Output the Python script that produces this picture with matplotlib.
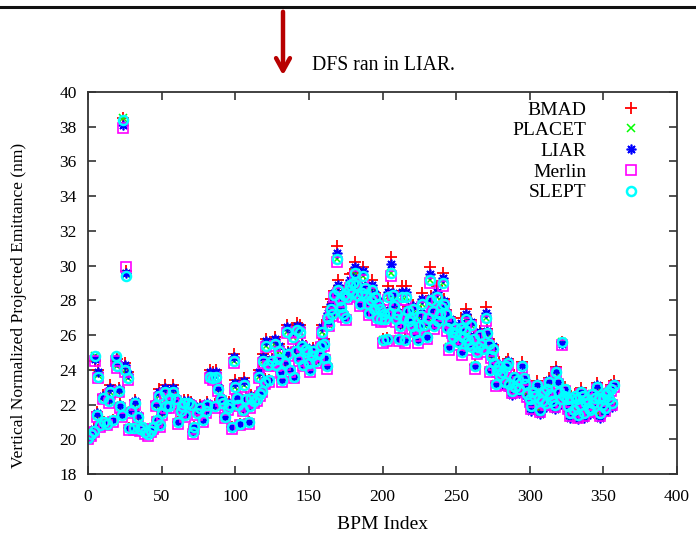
import matplotlib
matplotlib.use("Agg")
import matplotlib.pyplot as plt
from matplotlib.lines import Line2D

plt.rcParams['font.family'] = ['Liberation Serif', 'DejaVu Serif']

# BPM indices and emittance (nm)
bpm = [0, 2, 4, 5, 6, 7, 8, 10, 11, 13, 14, 15, 17, 19, 20, 21, 22, 23, 24, 25, 26, 27, 28, 29,
       31, 32, 34, 35, 37, 39, 41, 43, 44, 46, 47, 48, 49, 50, 52, 53, 55, 56, 58, 60, 61, 63, 64, 65, 66, 68, 70, 71, 72, 74, 76, 78, 80, 81,
       83, 85, 86, 87, 88, 90, 92, 93, 95, 96, 98, 99, 100, 101, 102, 103, 105, 106, 107, 109, 110, 111, 113, 115, 116, 117, 118, 119, 120,
       121, 122, 123, 125, 127, 128, 129, 130, 131, 132, 134, 135, 136, 137, 139, 140, 141, 142, 143, 144, 145, 146, 148, 149, 150, 151, 152, 153, 155, 157, 158, 159,
       160, 161, 162, 163, 164, 165, 166, 167, 169, 170, 171, 172, 173, 174, 175, 176, 177, 178, 179, 180, 181, 182, 183, 185, 186, 187, 188, 189, 190, 191,
       192, 193, 194, 195, 196, 197, 198, 199, 200, 201, 202, 203, 204, 205, 206, 207, 208, 209, 210, 211, 212, 213, 214, 215, 216, 217, 218, 219, 220, 221, 222,
       224, 225, 226, 227, 228, 230, 231, 232, 233, 234, 235, 237, 238, 239, 240, 241, 242, 243, 244, 245, 246, 247, 248, 249, 250, 251,
       253, 254, 255, 256, 257, 258, 259, 260, 261, 262, 263, 264, 265, 266, 267, 268, 270, 271, 272, 273, 274, 275, 276, 277, 278, 279,
       280, 281, 283, 284, 285, 286, 288, 289, 290, 292, 293, 295, 296, 297, 298, 300, 301, 302, 303, 305, 306, 307, 308, 310, 311, 312, 313, 314, 315, 317,
       318, 319, 320, 321, 322, 323, 324, 325, 326, 327, 328, 330, 331, 332, 333, 334, 335, 336, 337, 338, 339, 340, 341, 342, 343, 344,
       346, 347, 348, 349, 350, 351, 352, 353, 354, 355, 356, 357]

bmad = [20.1, 20.3, 20.65, 24.5, 21.55, 24.0, 20.8, 22.55, 21.0, 20.9, 22.35, 23.1, 21.1, 24.5, 24.6, 22.95, 22.05, 21.4, 38.5, 24.4, 29.7, 23.9, 20.65, 21.75,
        20.65, 22.25, 21.45, 20.6, 20.7, 20.4, 20.3, 20.5, 20.7, 22.15, 21.1, 22.9, 20.8, 21.65, 23.1, 22.05, 22.05, 22.55, 23.1, 22.45, 21.0, 21.75, 22.05, 22.25, 21.4, 22.25, 22.15, 20.4, 20.7, 21.65, 21.95, 21.1, 21.75, 22.15,
        24.0, 23.9, 22.05, 24.0, 23.05, 22.45, 22.25, 21.3, 21.95, 22.15, 20.7, 24.9, 23.4, 22.55, 22.15, 20.9, 21.85, 23.5, 22.45, 21.0, 22.05, 22.55, 22.35, 22.45, 24.0, 22.75, 22.95, 24.9, 23.45,
        25.8, 24.45, 23.4, 24.65, 25.9, 24.45, 24.75, 25.5, 23.9, 23.4, 24.55, 26.6, 25.05, 24.0, 26.3, 23.6, 25.25, 26.7, 24.75, 26.6, 25.55, 24.3, 25.35, 25.15, 24.4, 24.0, 24.95, 25.25, 24.65, 25.05, 25.55, 26.6,
        25.75, 24.75, 24.25, 27.6, 26.85, 28.1, 27.45, 28.55, 31.15, 29.2, 28.25, 27.85, 27.25, 28.55, 27.05, 28.45, 28.85, 29.5, 28.65, 29.6, 30.2, 29.15, 28.55, 27.85, 28.65, 29.95, 28.95, 28.55, 27.85, 27.35,
        28.25, 29.2, 27.55, 28.45, 27.05, 28.05, 27.75, 26.95, 25.75, 27.45, 27.15, 25.85, 28.8, 27.55, 30.5, 28.55, 27.95, 26.95, 27.45, 25.85, 26.75, 28.8, 27.25, 25.75, 28.8, 27.65, 27.05, 27.25, 26.55, 27.75, 26.15,
        25.75, 26.75, 27.35, 28.4, 26.85, 25.95, 27.25, 29.9, 28.25, 27.65, 26.55, 28.8, 27.05, 27.45, 27.85, 29.55, 28.05, 27.45, 26.45, 25.35, 27.05, 26.45, 25.95, 26.65, 26.35, 25.65,
        27.0, 25.05, 26.15, 26.55, 27.5, 25.75, 25.55, 26.85, 25.35, 26.05, 24.25, 25.25, 25.55, 26.25, 25.75, 25.25, 27.6, 26.35, 25.75, 24.05, 25.05, 25.45, 24.45, 23.25, 24.25, 24.45,
        23.8, 24.0, 23.3, 24.45, 24.65, 23.2, 22.8, 23.7, 23.1, 23.5, 22.9, 24.45, 23.6, 23.3, 22.6, 22.3, 21.9, 22.8, 22.6, 23.35, 22.5, 21.7, 22.3, 22.8, 22.1, 23.0, 23.55, 22.7, 22.2, 22.0,
        24.15, 23.4, 22.8, 22.3, 25.6, 22.6, 23.0, 22.3, 21.9, 21.5, 22.5, 21.7, 22.6, 22.4, 21.4, 22.1, 22.95, 22.6, 21.5, 22.2, 22.4, 21.8, 21.7, 22.7, 22.2, 22.5,
        23.25, 22.5, 21.5, 22.1, 22.4, 21.8, 22.7, 22.8, 22.4, 23.15, 22.1, 23.35]

placet = [20.1, 20.3, 20.5, 24.8, 21.4, 23.7, 20.8, 22.4, 21.0, 20.9, 22.2, 22.7, 21.1, 24.7, 24.2, 22.8, 21.9, 21.4, 38.5, 24.0, 29.5, 23.5, 20.65, 21.6,
          20.65, 22.1, 21.3, 20.6, 20.7, 20.4, 20.3, 20.5, 20.7, 22.0, 21.1, 22.5, 20.8, 21.5, 22.7, 21.9, 21.9, 22.4, 22.7, 22.3, 21.0, 21.6, 21.9, 22.1, 21.4, 22.1, 22.0, 20.4, 20.7, 21.5, 21.8, 21.1, 21.6, 22.0,
          23.6, 23.5, 21.9, 23.6, 22.9, 22.3, 22.1, 21.3, 21.8, 22.0, 20.7, 24.5, 23.0, 22.4, 22.0, 20.9, 21.7, 23.1, 22.3, 21.0, 21.9, 22.4, 22.2, 22.3, 23.6, 22.6, 22.8, 24.5, 23.3,
          25.4, 24.3, 23.4, 24.5, 25.5, 24.3, 24.6, 25.1, 23.9, 23.4, 24.4, 26.2, 24.9, 24.0, 25.9, 23.6, 25.1, 26.3, 24.6, 26.2, 25.4, 24.3, 25.2, 25.0, 24.4, 24.0, 24.8, 25.1, 24.5, 24.9, 25.4, 26.2,
          25.5, 24.7, 24.2, 27.0, 26.6, 27.5, 27.2, 28.3, 30.4, 28.6, 28.0, 27.6, 27.2, 28.3, 27.0, 28.2, 28.6, 28.9, 28.4, 29.0, 29.6, 28.9, 28.3, 27.8, 28.4, 29.4, 28.7, 28.3, 27.8, 27.3,
          28.0, 28.6, 27.5, 28.2, 27.0, 27.8, 27.5, 26.9, 25.7, 27.2, 26.9, 25.8, 28.2, 27.3, 29.6, 28.3, 27.7, 26.9, 27.2, 25.8, 26.5, 28.2, 27.0, 25.7, 28.2, 27.4, 26.8, 27.0, 26.5, 27.5, 26.1,
          25.7, 26.5, 27.1, 27.8, 26.6, 25.9, 27.0, 29.2, 28.0, 27.4, 26.5, 28.2, 26.8, 27.2, 27.6, 29.0, 27.8, 27.2, 26.4, 25.3, 26.8, 26.2, 25.9, 26.4, 26.1, 25.6,
          26.4, 25.0, 25.9, 26.3, 26.9, 25.7, 25.5, 26.6, 25.3, 25.8, 24.2, 25.0, 25.3, 26.0, 25.5, 25.2, 27.0, 26.1, 25.5, 24.0, 24.8, 25.2, 24.4, 23.2, 24.0, 24.2,
          23.7, 23.9, 23.3, 24.2, 24.4, 23.2, 22.8, 23.6, 23.0, 23.4, 22.9, 24.2, 23.5, 23.2, 22.6, 22.3, 21.9, 22.7, 22.5, 23.1, 22.4, 21.7, 22.2, 22.7, 22.1, 22.9, 23.3, 22.6, 22.2, 22.0,
          23.9, 23.3, 22.7, 22.3, 25.6, 22.5, 22.9, 22.3, 21.9, 21.5, 22.4, 21.7, 22.5, 22.3, 21.4, 22.0, 22.7, 22.5, 21.5, 22.1, 22.3, 21.8, 21.7, 22.6, 22.1, 22.4,
          23.0, 22.4, 21.5, 22.0, 22.3, 21.8, 22.6, 22.7, 22.3, 22.9, 22.1, 23.1]

liar = [20.1, 20.3, 20.6, 24.6, 21.5, 23.85, 20.8, 22.5, 21.0, 20.9, 22.3, 22.95, 21.1, 24.6, 24.45, 22.9, 22.0, 21.4, 38.1, 24.25, 29.6, 23.75, 20.65, 21.7,
        20.65, 22.2, 21.4, 20.6, 20.7, 20.4, 20.3, 20.5, 20.7, 22.1, 21.1, 22.75, 20.8, 21.6, 22.95, 22.0, 22.0, 22.5, 22.95, 22.4, 21.0, 21.7, 22.0, 22.2, 21.4, 22.2, 22.1, 20.4, 20.7, 21.6, 21.9, 21.1, 21.7, 22.1,
        23.85, 23.75, 22.0, 23.85, 23.0, 22.4, 22.2, 21.3, 21.9, 22.1, 20.7, 24.75, 23.25, 22.5, 22.1, 20.9, 21.8, 23.35, 22.4, 21.0, 22.0, 22.5, 22.3, 22.4, 23.85, 22.7, 22.9, 24.75, 23.4,
        25.65, 24.4, 23.4, 24.6, 25.75, 24.4, 24.7, 25.35, 23.9, 23.4, 24.5, 26.45, 25.0, 24.0, 26.15, 23.6, 25.2, 26.55, 24.7, 26.45, 25.5, 24.3, 25.3, 25.1, 24.4, 24.0, 24.9, 25.2, 24.6, 25.0, 25.5, 26.45,
        25.65, 24.7, 24.2, 27.3, 26.75, 27.8, 27.35, 28.45, 30.7, 28.9, 28.15, 27.75, 27.2, 28.45, 27.0, 28.35, 28.75, 29.2, 28.55, 29.3, 29.9, 29.05, 28.45, 27.8, 28.55, 29.7, 28.85, 28.45, 27.8, 27.3,
        28.15, 28.9, 27.5, 28.35, 27.0, 27.95, 27.65, 26.9, 25.7, 27.35, 27.05, 25.8, 28.5, 27.45, 30.1, 28.45, 27.85, 26.9, 27.35, 25.8, 26.65, 28.5, 27.15, 25.7, 28.5, 27.55, 26.95, 27.15, 26.5, 27.65, 26.1,
        25.7, 26.65, 27.25, 28.1, 26.75, 25.9, 27.15, 29.5, 28.15, 27.55, 26.5, 28.5, 26.95, 27.35, 27.75, 29.3, 27.95, 27.35, 26.4, 25.3, 26.95, 26.35, 25.9, 26.55, 26.25, 25.6,
        26.7, 25.0, 26.05, 26.45, 27.2, 25.7, 25.5, 26.75, 25.3, 25.95, 24.2, 25.15, 25.45, 26.15, 25.65, 25.2, 27.3, 26.25, 25.65, 24.0, 24.95, 25.35, 24.4, 23.2, 24.15, 24.35,
        23.7, 23.9, 23.05, 24.3, 24.5, 22.95, 22.55, 23.6, 23.0, 23.4, 22.65, 24.3, 23.5, 23.2, 22.35, 22.05, 21.65, 22.7, 22.5, 23.2, 22.4, 21.45, 22.2, 22.7, 21.85, 22.9, 23.4, 22.6, 21.95, 21.75,
        24.0, 23.3, 22.7, 22.05, 25.5, 22.5, 22.9, 22.05, 21.65, 21.25, 22.4, 21.45, 22.5, 22.3, 21.15, 22.0, 22.8, 22.5, 21.25, 22.1, 22.3, 21.55, 21.45, 22.6, 22.1, 22.4,
        23.1, 22.4, 21.25, 22.0, 22.3, 21.55, 22.6, 22.7, 22.3, 23.0, 21.85, 23.2]

merlin = [20.0, 20.2, 20.4, 24.5, 21.3, 23.5, 20.7, 22.3, 20.9, 20.8, 22.1, 22.6, 21.0, 24.5, 24.1, 22.7, 21.8, 21.3, 37.9, 23.9, 29.95, 23.4, 20.55, 21.5,
          20.55, 22.0, 21.2, 20.5, 20.6, 20.3, 20.2, 20.4, 20.6, 21.9, 21.0, 22.4, 20.7, 21.4, 22.6, 21.8, 21.8, 22.3, 22.6, 22.2, 20.9, 21.5, 21.8, 22.0, 21.3, 22.0, 21.9, 20.3, 20.6, 21.4, 21.7, 21.0, 21.5, 21.9,
          23.5, 23.4, 21.8, 23.5, 22.8, 22.2, 22.0, 21.2, 21.7, 21.9, 20.6, 24.4, 22.9, 22.3, 21.9, 20.8, 21.6, 23.0, 22.2, 20.9, 21.8, 22.3, 22.1, 22.2, 23.5, 22.5, 22.7, 24.4, 23.2,
          25.3, 24.2, 23.3, 24.4, 25.4, 24.2, 24.5, 25.0, 23.8, 23.3, 24.3, 26.1, 24.8, 23.9, 25.8, 23.5, 25.0, 26.2, 24.5, 26.1, 25.3, 24.2, 25.1, 24.9, 24.3, 23.9, 24.7, 25.0, 24.4, 24.8, 25.3, 26.1,
          25.4, 24.55, 24.05, 26.8, 26.5, 27.3, 27.1, 28.2, 30.2, 28.4, 27.9, 27.5, 27.05, 28.2, 26.85, 28.1, 28.5, 28.7, 28.3, 28.8, 29.4, 28.8, 28.2, 27.65, 28.3, 29.2, 28.6, 28.2, 27.65, 27.15,
          27.9, 28.4, 27.35, 28.1, 26.85, 27.7, 27.4, 26.75, 25.55, 27.1, 26.8, 25.65, 28.0, 27.2, 29.4, 28.2, 27.6, 26.75, 27.1, 25.65, 26.4, 28.0, 26.9, 25.55, 28.0, 27.3, 26.7, 26.9, 26.35, 27.4, 25.95,
          25.55, 26.4, 27.0, 27.6, 26.5, 25.75, 26.9, 29.0, 27.9, 27.3, 26.35, 28.0, 26.7, 27.1, 27.5, 28.8, 27.7, 27.1, 26.25, 25.15, 26.7, 26.1, 25.75, 26.3, 26.0, 25.45,
          26.2, 24.85, 25.8, 26.2, 26.7, 25.55, 25.35, 26.5, 25.15, 25.7, 24.05, 24.9, 25.2, 25.9, 25.4, 25.05, 26.8, 26.0, 25.4, 23.85, 24.7, 25.1, 24.25, 23.05, 23.9, 24.1,
          23.6, 23.8, 23.15, 24.1, 24.3, 23.05, 22.65, 23.5, 22.9, 23.3, 22.75, 24.1, 23.4, 23.1, 22.45, 22.15, 21.75, 22.6, 22.4, 23.0, 22.3, 21.55, 22.1, 22.6, 21.95, 22.8, 23.2, 22.5, 22.05, 21.85,
          23.8, 23.2, 22.6, 22.15, 25.45, 22.4, 22.8, 22.15, 21.75, 21.35, 22.3, 21.55, 22.4, 22.2, 21.25, 21.9, 22.6, 22.4, 21.35, 22.0, 22.2, 21.65, 21.55, 22.5, 22.0, 22.3,
          22.9, 22.3, 21.35, 21.9, 22.2, 21.65, 22.5, 22.6, 22.2, 22.8, 21.95, 23.0]

slept = [20.1, 20.3, 20.5, 24.8, 21.4, 23.6, 20.8, 22.4, 21.0, 20.9, 22.2, 22.7, 21.1, 24.8, 24.2, 22.8, 21.9, 21.4, 38.4, 24.0, 29.4, 23.5, 20.65, 21.6,
         20.65, 22.1, 21.3, 20.6, 20.7, 20.4, 20.3, 20.5, 20.7, 22.0, 21.1, 22.5, 20.8, 21.5, 22.7, 21.9, 21.9, 22.4, 22.7, 22.3, 21.0, 21.6, 21.9, 22.1, 21.4, 22.1, 22.0, 20.4, 20.7, 21.5, 21.8, 21.1, 21.6, 22.0,
         23.6, 23.5, 21.9, 23.6, 22.9, 22.3, 22.1, 21.3, 21.8, 22.0, 20.7, 24.5, 23.0, 22.4, 22.0, 20.9, 21.7, 23.1, 22.3, 21.0, 21.9, 22.4, 22.2, 22.3, 23.6, 22.6, 22.8, 24.5, 23.3,
         25.4, 24.3, 23.4, 24.5, 25.5, 24.3, 24.6, 25.1, 23.9, 23.4, 24.4, 26.2, 24.9, 24.0, 25.9, 23.6, 25.1, 26.3, 24.6, 26.2, 25.4, 24.3, 25.2, 25.0, 24.4, 24.0, 24.8, 25.1, 24.5, 24.9, 25.4, 26.2,
         25.5, 24.7, 24.2, 27.0, 26.6, 27.5, 27.2, 28.3, 30.4, 28.6, 28.0, 27.6, 27.2, 28.3, 27.0, 28.2, 28.6, 28.9, 28.4, 29.0, 29.6, 28.9, 28.3, 27.8, 28.4, 29.4, 28.7, 28.3, 27.8, 27.3,
         28.0, 28.6, 27.5, 28.2, 27.0, 27.8, 27.5, 26.9, 25.7, 27.2, 26.9, 25.8, 28.2, 27.3, 29.6, 28.3, 27.7, 26.9, 27.2, 25.8, 26.5, 28.2, 27.0, 25.7, 28.2, 27.4, 26.8, 27.0, 26.5, 27.5, 26.1,
         25.7, 26.5, 27.1, 27.8, 26.6, 25.9, 27.0, 29.2, 28.0, 27.4, 26.5, 28.2, 26.8, 27.2, 27.6, 29.0, 27.8, 27.2, 26.4, 25.3, 26.8, 26.2, 25.9, 26.4, 26.1, 25.6,
         26.4, 25.0, 25.9, 26.3, 26.9, 25.7, 25.5, 26.6, 25.3, 25.8, 24.2, 25.0, 25.3, 26.0, 25.5, 25.2, 27.0, 26.1, 25.5, 24.0, 24.8, 25.2, 24.4, 23.2, 24.0, 24.2,
         23.7, 23.9, 23.3, 24.2, 24.4, 23.2, 22.8, 23.6, 23.0, 23.4, 22.9, 24.2, 23.5, 23.2, 22.6, 22.3, 21.9, 22.7, 22.5, 23.1, 22.4, 21.7, 22.2, 22.7, 22.1, 22.9, 23.3, 22.6, 22.2, 22.0,
         23.9, 23.3, 22.7, 22.3, 25.6, 22.5, 22.9, 22.3, 21.9, 21.5, 22.4, 21.7, 22.5, 22.3, 21.4, 22.0, 22.7, 22.5, 21.5, 22.1, 22.3, 21.8, 21.7, 22.6, 22.1, 22.4,
         23.0, 22.4, 21.5, 22.0, 22.3, 21.8, 22.6, 22.7, 22.3, 22.9, 22.1, 23.1]

fig = plt.figure(figsize=(6.96, 5.34), dpi=100)
ax = fig.add_axes([88 / 696, 60 / 534, 589 / 696, 382 / 534])

ax.plot(bpm, bmad, ls='none', marker='+', color='#ff0000', ms=8, mew=1.3, label='BMAD')
ax.plot(bpm, placet, ls='none', marker='x', color='#00ff00', ms=5.5, mew=1.1, label='PLACET')
ax.plot(bpm, liar, ls='none', marker=(8, 2, 0), color='#0000ff', ms=7, mew=1.2, label='LIAR')
ax.plot(bpm, merlin, ls='none', marker='s', mfc='none', mec='#ff00ff', ms=6.5, mew=1.2, label='Merlin')
ax.plot(bpm, slept, ls='none', marker='o', mfc='none', mec='#00ffff', ms=6.5, mew=1.8, label='SLEPT')

ax.set_xlim(0, 400)
ax.set_ylim(18, 40)
ax.set_xticks(range(0, 401, 50))
ax.set_yticks(range(18, 41, 2))
ax.tick_params(direction='in', top=True, right=True, length=6, width=1.2,
               labelsize=12.5, colors='#333333', labelcolor='black')
ax.tick_params(axis='x', pad=11)
ax.tick_params(axis='y', pad=8)
for s in ax.spines.values():
    s.set_linewidth(1.3)
    s.set_color('#333333')

ax.set_xlabel('BPM Index', fontsize=14, labelpad=8)
ax.set_ylabel('Vertical Normalized Projected Emittance (nm)', fontsize=12.6)
ax.yaxis.set_label_coords(-0.103, 0.44)

ax.legend(loc='upper right', bbox_to_anchor=(0.952, 0.997), frameon=False,
          markerfirst=False, numpoints=1, handlelength=1.0, handletextpad=1.8,
          labelspacing=0.16, fontsize=14, borderaxespad=0)

# page decoration around the plot: rule at top and arrow with note
fig.add_artist(Line2D([0, 1], [1 - 7 / 534, 1 - 7 / 534], color='#111111', lw=2.2))
ax.annotate('', xy=(283 / 696, 1 - 78 / 534), xycoords='figure fraction',
            xytext=(283 / 696, 1 - 9 / 534), textcoords='figure fraction',
            arrowprops=dict(arrowstyle='->,head_length=0.9,head_width=0.5',
                            color='#b80000', lw=3.2))
fig.text(312 / 696, 1 - 65 / 534, 'DFS ran in LIAR.', fontsize=14.2, va='center', ha='left')

fig.savefig('out.png', dpi=100)
